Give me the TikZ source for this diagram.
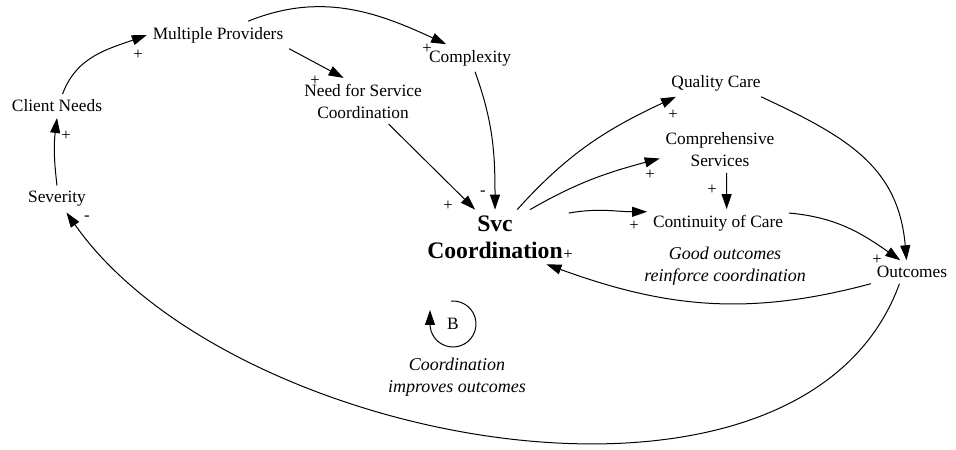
\documentclass[tikz,border=0pt]{standalone}
\usepackage{fontspec}
\setmainfont{LiberationSerif}[Extension=.ttf,UprightFont=*-Regular,BoldFont=*-Bold,ItalicFont=*-Italic,BoldItalicFont=*-BoldItalic]
\usetikzlibrary{arrows.meta}

\begin{document}
\begin{tikzpicture}[x=0.6pt,y=0.6pt,
    every node/.style={align=center,font=\rmfamily\fontsize{10.4}{13.2}\selectfont},
    key/.style={font=\rmfamily\bfseries\fontsize{14.2}{16.2}\selectfont},
    note/.style={font=\rmfamily\itshape\fontsize{10.8}{13.2}\selectfont},
    pol/.style={inner sep=0pt,font=\rmfamily\fontsize{10}{12}\selectfont},
    link/.style={-{Triangle[length=9pt,width=6pt]},line width=0.6pt}]
    \useasboundingbox (0,0) rectangle (956,450);
    \node (multi) at (218,415) {Multiple Providers};
    \node (complex) at (470,392) {Complexity};
    \node (need) at (363,349) {Need for Service\\Coordination};
    \node (client) at (57,344) {Client Needs};
    \node (sev) at (57,251) {Severity};
    \node[key] (svc) at (495,213) {Svc\\Coordination};
    \node (quality) at (716,367) {Quality Care};
    \node (compr) at (720,300) {Comprehensive\\Services};
    \node (contin) at (718,227) {Continuity of Care};
    \node (outc) at (912,178) {Outcomes};
    \node[note] (good) at (725,184) {Good outcomes\\reinforce coordination};
    \node (loop) at (453,126) {B};
    \node[note] (improve) at (457,73) {Coordination\\improves outcomes};

    \draw[link] (client.65) to[out=70,in=200] (multi.west);
    \draw[link] (sev.north) to[out=97,in=-97] (client.south);
    \draw[link] (multi.south east) -- (need.130);
    \draw[link] ([xshift=18pt]multi.north) to[out=22,in=155] (complex.150);
    \draw[link] (complex.-70) to[out=-70,in=90] (svc.north);
    \draw[link] (need.-42) -- (svc.126);
    \draw[link] (svc.51) to[out=48,in=205] (quality.199);
    \draw[link] (svc.38) to[out=30,in=195] (compr.188);
    \draw[link] (svc.18) to[out=10,in=180] (contin.171);
    \draw[link] (compr.-74) -- (contin.58);
    \draw[link] (quality.-17) to[out=-25,in=95,looseness=1.1] (outc.115);
    \draw[link] (contin.8) to[out=-5,in=145] (outc.135);
    \draw[link] (outc.south west) to[out=195,in=-20] (svc.-28);
    \draw[link] (outc.-137) to[out=-110,in=-55,looseness=0.88] (sev.-55);
    \draw[link] ([shift={(95:23)}]loop.center) arc[start angle=95,end angle=-180,radius=23] -- ++(0,14);

    \node[pol] at (138,395) {+};
    \node[pol] at (66,314) {+};
    \node[pol] at (315,369) {+};
    \node[pol] at (427,401) {+};
    \node[pol] at (483,257) {-};
    \node[pol] at (448,244) {+};
    \node[pol] at (673,335) {+};
    \node[pol] at (650,275) {+};
    \node[pol] at (634,224) {+};
    \node[pol] at (712,260) {+};
    \node[pol] at (877,190) {+};
    \node[pol] at (568,195) {+};
    \node[pol] at (87,232) {-};
\end{tikzpicture}
\end{document}
